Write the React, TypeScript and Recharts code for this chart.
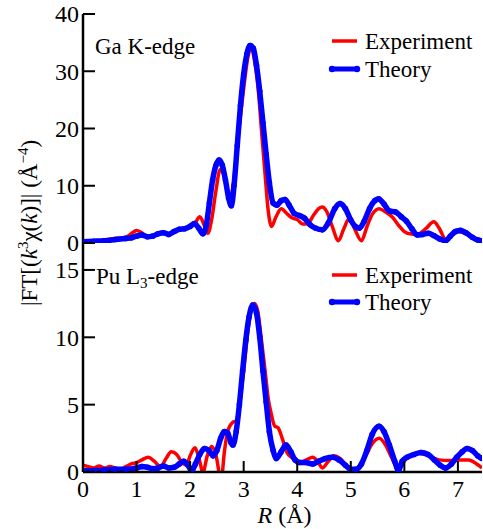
import React from 'react';
import { LineChart, Line, XAxis, YAxis, Legend } from 'recharts';

const W = 483;
const H = 529;
const FONT = "'Liberation Serif', 'Times New Roman', serif";
const RED = '#ff0000';
const BLUE = '#0000ff';

// Shared R axis
const rTicks = [0, 1, 2, 3, 4, 5, 6, 7];
const rDomain: [number, number] = [0, 7.45];

// Ga K-edge panel
const gaTicks = [0, 10, 20, 30, 40];
const gaExpR = [0, 0.2, 0.4, 0.6, 0.8, 0.9, 1.0, 1.1, 1.2, 1.3, 1.4, 1.5, 1.6, 1.7, 1.8, 1.9, 2.0, 2.1, 2.18, 2.26, 2.33, 2.4, 2.48, 2.56, 2.62, 2.68, 2.74, 2.8, 2.9, 3.0, 3.08, 3.14, 3.2, 3.27, 3.33, 3.4, 3.46, 3.52, 3.6, 3.7, 3.8, 3.9, 4.0, 4.1, 4.2, 4.3, 4.4, 4.47, 4.55, 4.65, 4.77, 4.87, 4.97, 5.07, 5.2, 5.3, 5.4, 5.53, 5.65, 5.78, 5.9, 6.0, 6.1, 6.25, 6.4, 6.55, 6.65, 6.77, 6.9, 7.02, 7.15, 7.3, 7.45];
const gaExpY = [0.1, 0.3, 0.5, 0.8, 1.0, 1.6, 2.2, 1.8, 1.0, 1.2, 1.6, 1.8, 1.6, 1.8, 2.4, 2.6, 2.8, 3.6, 4.6, 3.2, 1.7, 4.0, 9.0, 12.8, 12.2, 9.5, 7.6, 9.8, 19, 27, 32.5, 34.3, 32, 27, 20, 12, 5.5, 2.9, 4.5, 6.0, 5.2, 4.4, 4.1, 3.3, 3.4, 4.8, 6.0, 6.3, 5.5, 3.0, 0.4, 2.5, 4.3, 2.5, 0.4, 2.8, 5.0, 6.0, 5.4, 4.5, 3.0, 2.0, 1.6, 1.5, 2.5, 3.7, 2.6, 0.7, 1.4, 2.0, 1.6, 0.8, 0.4];
const gaThR = [0, 0.2, 0.4, 0.6, 0.8, 0.9, 1.0, 1.1, 1.2, 1.3, 1.4, 1.5, 1.6, 1.7, 1.8, 1.9, 2.0, 2.08, 2.16, 2.24, 2.3, 2.36, 2.42, 2.48, 2.54, 2.6, 2.66, 2.72, 2.77, 2.82, 2.88, 2.94, 3.0, 3.06, 3.12, 3.18, 3.24, 3.3, 3.36, 3.42, 3.48, 3.55, 3.62, 3.7, 3.77, 3.85, 3.94, 4.04, 4.14, 4.24, 4.34, 4.47, 4.58, 4.7, 4.8, 4.9, 5.0, 5.1, 5.16, 5.25, 5.35, 5.45, 5.52, 5.62, 5.72, 5.84, 5.94, 6.04, 6.14, 6.24, 6.34, 6.45, 6.55, 6.66, 6.77, 6.86, 6.95, 7.05, 7.15, 7.27, 7.38, 7.45];
const gaThY = [0.2, 0.3, 0.4, 0.6, 0.8, 0.9, 1.2, 1.4, 1.1, 1.2, 1.6, 1.8, 1.5, 2.0, 2.4, 2.5, 2.9, 3.4, 2.6, 1.6, 3.0, 7.0, 11, 13.5, 14.5, 13.6, 11, 7.8, 6.5, 10, 17, 24, 29.5, 33, 34.5, 34, 31, 26.5, 21, 15.5, 10.5, 7.0, 6.6, 7.4, 7.6, 6.6, 5.2, 4.8, 4.3, 3.2, 2.6, 2.3, 3.5, 6.0, 6.9, 6.0, 4.0, 2.8, 2.6, 3.8, 6.0, 7.4, 7.7, 6.8, 5.6, 5.4, 4.6, 3.8, 2.5, 1.4, 1.5, 1.7, 1.3, 0.7, 0.4, 1.2, 2.0, 2.2, 1.8, 1.0, 0.5, 0.4];

// Pu L3-edge panel
const puTicks = [0, 5, 10, 15];
const puExpR = [0, 0.1, 0.2, 0.3, 0.4, 0.5, 0.6, 0.7, 0.8, 0.9, 1.0, 1.1, 1.22, 1.33, 1.45, 1.55, 1.65, 1.75, 1.85, 1.93, 2.0, 2.09, 2.16, 2.24, 2.32, 2.4, 2.48, 2.58, 2.64, 2.7, 2.8, 2.86, 2.92, 3.0, 3.08, 3.14, 3.2, 3.26, 3.32, 3.4, 3.46, 3.51, 3.58, 3.64, 3.72, 3.8, 3.92, 4.05, 4.17, 4.29, 4.38, 4.47, 4.58, 4.69, 4.8, 4.92, 5.05, 5.15, 5.28, 5.4, 5.53, 5.65, 5.77, 5.9, 6.0, 6.1, 6.28, 6.45, 6.65, 6.85, 7.02, 7.2, 7.35, 7.45];
const puExpY = [0.5, 0.4, 0.3, 0.45, 0.3, 0.4, 0.3, 0.2, 0.4, 0.6, 0.7, 0.9, 1.1, 0.8, 0.4, 1.0, 1.5, 1.3, 0.7, 0.5, 1.2, 1.8, 1.1, 0.0, 1.2, 1.9, 1.3, -0.6, 1.5, 3.0, 3.7, 3.8, 5.0, 7.5, 10.5, 12.0, 12.5, 12.0, 10.2, 7.5, 5.4, 4.4, 3.4, 3.3, 2.5, 1.5, 1.0, 0.7, 0.9, 1.1, 0.8, 0.3, 0.8, 1.2, 1.0, 0.5, 0.2, 0.4, 1.2, 2.1, 2.5, 2.0, 1.0, 0.2, 0.8, 1.2, 1.4, 1.2, 0.9, 0.85, 0.9, 0.9, 0.6, 0.3];
const puThR = [0, 0.2, 0.4, 0.6, 0.8, 1.0, 1.1, 1.2, 1.3, 1.4, 1.5, 1.6, 1.7, 1.8, 1.88, 1.96, 2.03, 2.1, 2.18, 2.27, 2.35, 2.43, 2.5, 2.57, 2.64, 2.7, 2.76, 2.8, 2.86, 2.92, 2.98, 3.04, 3.1, 3.17, 3.24, 3.3, 3.36, 3.42, 3.48, 3.55, 3.61, 3.7, 3.79, 3.88, 3.96, 4.05, 4.15, 4.29, 4.4, 4.52, 4.66, 4.78, 4.9, 5.0, 5.1, 5.2, 5.3, 5.4, 5.53, 5.62, 5.72, 5.82, 5.89, 5.96, 6.05, 6.18, 6.31, 6.44, 6.56, 6.67, 6.77, 6.88, 6.98, 7.08, 7.17, 7.27, 7.37, 7.45];
const puThY = [0.1, 0.1, 0.15, 0.2, 0.2, 0.3, 0.4, 0.35, 0.25, 0.3, 0.45, 0.3, 0.35, 0.6, 0.8, 0.5, 0.1, 0.6, 1.3, 1.75, 1.6, 1.2, 1.6, 2.5, 3.0, 2.9, 2.2, 2.0, 3.0, 5.0, 7.5, 9.8, 11.5, 12.4, 11.8, 10.0, 7.5, 5.2, 3.0, 1.6, 1.0, 1.5, 2.0, 1.5, 0.9, 0.7, 0.7, 0.6, 0.8, 1.0, 1.1, 0.9, 0.5, 0.2, 0.2, 0.6, 1.6, 2.8, 3.4, 3.0, 2.0, 0.8, 0.1, 0.8, 1.1, 1.3, 1.45, 1.3, 0.9, 0.5, 0.3, 0.6, 1.1, 1.5, 1.75, 1.6, 1.2, 1.0];

const zip = (rs: number[], ys: number[]) => rs.map((r, i) => ({ r, v: ys[i] }));

const gaExp = zip(gaExpR, gaExpY);
const gaTh = zip(gaThR, gaThY);
const puExp = zip(puExpR, puExpY);
const puTh = zip(puThR, puThY);

// Layout (pixels)
const PLOT_LEFT = 83;
const PLOT_RIGHT = 482;
const TOP_Y = 14;
const MID_Y = 243;
const BOT_Y = 472;

const serif: React.CSSProperties = { fontFamily: FONT };

// Left axis: label outside, tick mark pointing into the plot
const LeftTick = (props: any) => {
  const { x, y, payload } = props;
  return (
    <g>
      <line x1={x} x2={x + 12} y1={y} y2={y} stroke="#000" strokeWidth={2} />
      <text x={x - 4} y={y} dy="0.35em" textAnchor="end" fontSize={24} fill="#000" style={serif}>
        {payload.value}
      </text>
    </g>
  );
};

// Inward tick marks only, along a horizontal axis (dir = -1 up, +1 down)
const makeMarkTick = (dir: number) => (props: any) => {
  const { x, y } = props;
  return <line x1={x} x2={x} y1={y} y2={y + dir * 10} stroke="#000" strokeWidth={2} />;
};
const UpMark = makeMarkTick(-1);
const DownMark = makeMarkTick(1);

const BottomTick = (props: any) => {
  const { x, y, payload } = props;
  return (
    <g>
      <line x1={x} x2={x} y1={y} y2={y - 11} stroke="#000" strokeWidth={2} />
      <text x={x} y={y + 25} textAnchor="middle" fontSize={24} fill="#000" style={serif}>
        {payload.value}
      </text>
    </g>
  );
};

const YTitle = () => {
  const cx = 37;
  const cy = 223;
  return (
    <text x={cx} y={cy} transform={`rotate(-90 ${cx} ${cy})`} textAnchor="middle" fontSize={23} fill="#000" style={serif}>
      <tspan>|FT[(</tspan>
      <tspan fontStyle="italic">k</tspan>
      <tspan dy={-9} fontSize={15}>3</tspan>
      <tspan dy={9}>χ(</tspan>
      <tspan fontStyle="italic">k</tspan>
      <tspan>)]| (Å</tspan>
      <tspan dy={-9} fontSize={15}>−4</tspan>
      <tspan dy={9}>)</tspan>
    </text>
  );
};

const XTitle = () => (
  <text x={(PLOT_LEFT + PLOT_RIGHT) / 2 + 2} y={523} textAnchor="middle" fontSize={24} fill="#000" style={serif}>
    <tspan fontStyle="italic">R</tspan>
    <tspan> (Å)</tspan>
  </text>
);

const SeriesKey = ({ gap }: { gap: number }) => (
  <svg width={160} height={60} style={{ display: 'block', overflow: 'visible' }}>
    <line x1={4} x2={29} y1={14} y2={14} stroke={RED} strokeWidth={3.5} />
    <text x={37} y={14} dy="0.35em" fontSize={23} fill="#000" style={serif}>Experiment</text>
    <line x1={4} x2={29} y1={14 + gap} y2={14 + gap} stroke={BLUE} strokeWidth={5} />
    <circle cx={4} cy={14 + gap} r={3.2} fill={BLUE} />
    <circle cx={29} cy={14 + gap} r={3.2} fill={BLUE} />
    <text x={37} y={14 + gap} dy="0.35em" fontSize={23} fill="#000" style={serif}>Theory</text>
  </svg>
);

const panelLabel: React.CSSProperties = {
  position: 'absolute',
  fontFamily: FONT,
  fontSize: 23,
  lineHeight: '23px',
  color: '#000',
  whiteSpace: 'nowrap',
};

const axisLine = { stroke: '#000', strokeWidth: 2.5 };

export default function App() {
  return (
    <div style={{ position: 'absolute', left: 0, top: 0, width: W, height: H, background: '#fff', overflow: 'hidden' }}>
      {/* Ga K-edge */}
      <div style={{ position: 'absolute', left: 0, top: 0 }}>
        <LineChart width={W} height={H} margin={{ top: TOP_Y, right: W - PLOT_RIGHT, left: 0, bottom: H - MID_Y }}>
          <XAxis
            dataKey="r"
            type="number"
            domain={rDomain}
            ticks={rTicks}
            interval={0}
            allowDataOverflow
            height={0}
            tickSize={0}
            tickMargin={0}
            tickLine={false}
            axisLine={axisLine}
            tick={<UpMark />}
          />
          <XAxis
            xAxisId="top"
            orientation="top"
            type="number"
            domain={rDomain}
            height={0}
            tick={false}
            tickLine={false}
            axisLine={axisLine}
          />
          <YAxis
            type="number"
            domain={[0, 40]}
            ticks={gaTicks}
            interval={0}
            allowDataOverflow
            width={PLOT_LEFT}
            tickSize={0}
            tickMargin={0}
            tickLine={false}
            axisLine={axisLine}
            tick={<LeftTick />}
            label={<YTitle />}
          />
          <YAxis
            yAxisId="right"
            orientation="right"
            type="number"
            domain={[0, 1]}
            width={0}
            tick={false}
            tickLine={false}
            axisLine={{ stroke: '#777', strokeWidth: 1.5 }}
          />
          <Legend
            layout="vertical"
            align="center"
            verticalAlign="middle"
            wrapperStyle={{ top: 27, left: 328, width: 160, height: 60 }}
            content={() => <SeriesKey gap={28} />}
          />
          <Line data={gaExp} dataKey="v" type="monotone" stroke={RED} strokeWidth={3.5} dot={false} activeDot={false} isAnimationActive={false} />
          <Line data={gaTh} dataKey="v" type="monotone" stroke={BLUE} strokeWidth={5.5} dot={{ r: 2.8, fill: BLUE, stroke: 'none' }} activeDot={false} isAnimationActive={false} />
        </LineChart>
      </div>

      {/* Pu L3-edge */}
      <div style={{ position: 'absolute', left: 0, top: 0 }}>
        <LineChart width={W} height={H} margin={{ top: MID_Y, right: W - PLOT_RIGHT, left: 0, bottom: 0 }}>
          <XAxis
            dataKey="r"
            type="number"
            domain={rDomain}
            ticks={rTicks}
            interval={0}
            allowDataOverflow
            height={H - BOT_Y}
            tickSize={0}
            tickMargin={0}
            tickLine={false}
            axisLine={axisLine}
            tick={<BottomTick />}
            label={<XTitle />}
          />
          <XAxis
            xAxisId="top"
            orientation="top"
            type="number"
            domain={rDomain}
            ticks={rTicks}
            interval={0}
            height={0}
            tickSize={0}
            tickMargin={0}
            tickLine={false}
            axisLine={axisLine}
            tick={<DownMark />}
          />
          <YAxis
            type="number"
            domain={[0, 17]}
            ticks={puTicks}
            interval={0}
            allowDataOverflow
            width={PLOT_LEFT}
            tickSize={0}
            tickMargin={0}
            tickLine={false}
            axisLine={axisLine}
            tick={<LeftTick />}
          />
          <YAxis
            yAxisId="right"
            orientation="right"
            type="number"
            domain={[0, 1]}
            width={0}
            tick={false}
            tickLine={false}
            axisLine={{ stroke: '#777', strokeWidth: 1.5 }}
          />
          <Legend
            layout="vertical"
            align="center"
            verticalAlign="middle"
            wrapperStyle={{ top: 261, left: 328, width: 160, height: 60 }}
            content={() => <SeriesKey gap={27} />}
          />
          <Line data={puExp} dataKey="v" type="monotone" stroke={RED} strokeWidth={3.5} dot={false} activeDot={false} isAnimationActive={false} />
          <Line data={puTh} dataKey="v" type="monotone" stroke={BLUE} strokeWidth={5.5} dot={{ r: 2.8, fill: BLUE, stroke: 'none' }} activeDot={false} isAnimationActive={false} />
        </LineChart>
      </div>

      <div style={{ ...panelLabel, left: 95, top: 35 }}>Ga K-edge</div>
      <div style={{ ...panelLabel, left: 96, top: 265 }}>
        Pu L<sub style={{ fontSize: 15, lineHeight: 0, verticalAlign: -4 }}>3</sub>-edge
      </div>
    </div>
  );
}
